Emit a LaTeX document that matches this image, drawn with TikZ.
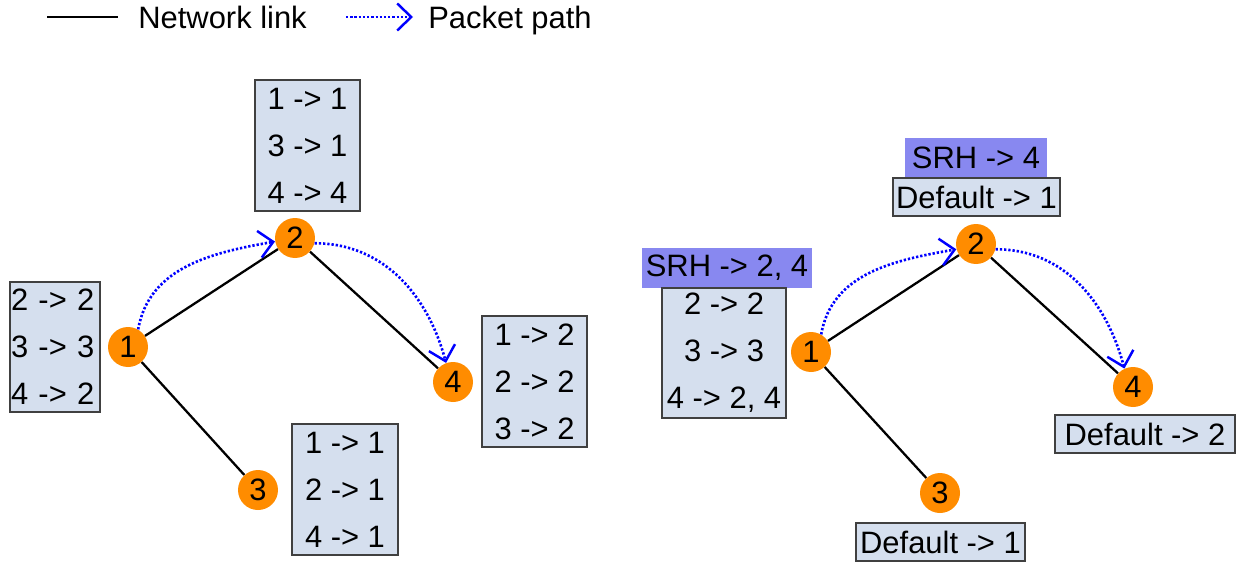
\documentclass[tikz,border=0pt]{standalone}
\usepackage{fontspec}
\setmainfont{Liberation Sans}
\usetikzlibrary{arrows.meta,positioning}
\definecolor{rtorange}{RGB}{255,140,0}
\definecolor{rtbox}{RGB}{213,223,238}
\definecolor{srhblue}{RGB}{136,136,240}

\begin{document}
\begin{tikzpicture}[x=0.02cm, y=-0.02cm,
    every node/.style={font=\fontsize{17.6}{26.7}\selectfont},
    router/.style={circle,fill=rtorange,minimum size=0.8cm,inner sep=0pt},
    rtable/.style={draw=black!75,fill=rtbox,line width=0.8pt,inner sep=0pt,align=center},
    srh/.style={fill=srhblue,inner sep=0pt,align=center},
    link/.style={line width=1.3pt},
    pkt/.style={blue,line width=1.5pt,dash pattern=on 1.3pt off 1.1pt,-{Straight Barb[length=0.28cm,width=0.54cm,line width=1.4pt]}}]
				\useasboundingbox (0,0) rectangle (1241,565);

				% legend
				\coordinate (lkA) at (47,17);
				\coordinate (lkB) at (118,17);
				\coordinate (pkA) at (346,17);
				\coordinate (pkB) at (413,17);
				\draw[link] (lkA) -- (lkB);
				\node[anchor=base west,inner sep=0pt] (lkT) at (138,28) {Network link};
				\draw[pkt] (pkA) -- (pkB);
				\node[anchor=base west,inner sep=0pt] (pkT) at (428,28) {Packet path};

				% left: routing tables
				\node[router] (l1) at (128,347) {1};
				\node[router] (l2) at (295,238) {2};
				\node[router] (l3) at (258,490) {3};
				\node[router] (l4) at (453,382) {4};

				\node[rtable,text width=1.76cm,inner xsep=0.02cm,minimum height=2.6cm,align=left] (t1) at (55,347) {2 -> 2\\3 -> 3\\4 -> 2};
				\node[rtable,minimum width=2.1cm,minimum height=2.62cm] (t2) at (307.5,145.5) {1 -> 1\\3 -> 1\\4 -> 4};
				\node[rtable,minimum width=2.1cm,minimum height=2.62cm] (t4) at (534.5,381.5) {1 -> 2\\2 -> 2\\3 -> 2};
				\node[rtable,minimum width=2.12cm,minimum height=2.62cm] (t3) at (345,489.5) {1 -> 1\\2 -> 1\\4 -> 1};

				\draw[link] (l1) -- (l2);
				\draw[link] (l2) -- (l4);
				\draw[link] (l1) -- (l3);
				\draw[pkt] (l1.60) to[out=80,in=190] (l2.190);
				\draw[pkt] (l2.-15) to[out=0,in=105] (l4.110);

				% right: segment routing header
				\node[router] (r1) at (811,352) {1};
				\node[router] (r2) at (976,244) {2};
				\node[router] (r3) at (940,493) {3};
				\node[router] (r4) at (1133,387) {4};

				\node[srh,minimum width=3.4cm,minimum height=0.8cm] (s1) at (727,268) {SRH -> 2, 4};
				\node[rtable,minimum width=2.48cm,minimum height=2.6cm] (u1) at (724,353) {2 -> 2\\3 -> 3\\4 -> 2, 4};
				\node[srh,minimum width=2.84cm,minimum height=0.8cm] (s2) at (976,158) {SRH -> 4};
				\node[rtable,minimum width=3.34cm,minimum height=0.76cm] (u2) at (976.5,197) {Default -> 1};
				\node[rtable,minimum width=3.6cm,minimum height=0.76cm] (u4) at (1145,434) {Default -> 2};
				\node[rtable,minimum width=3.38cm,minimum height=0.76cm] (u3) at (940.5,542) {Default -> 1};

				\draw[link] (r1) -- (r2);
				\draw[link] (r2) -- (r4);
				\draw[link] (r1) -- (r3);
				\draw[pkt] (r1.60) to[out=80,in=190] (r2.195);
				\draw[pkt] (r2.-15) to[out=0,in=105] (r4.115);
			\end{tikzpicture}
\end{document}
